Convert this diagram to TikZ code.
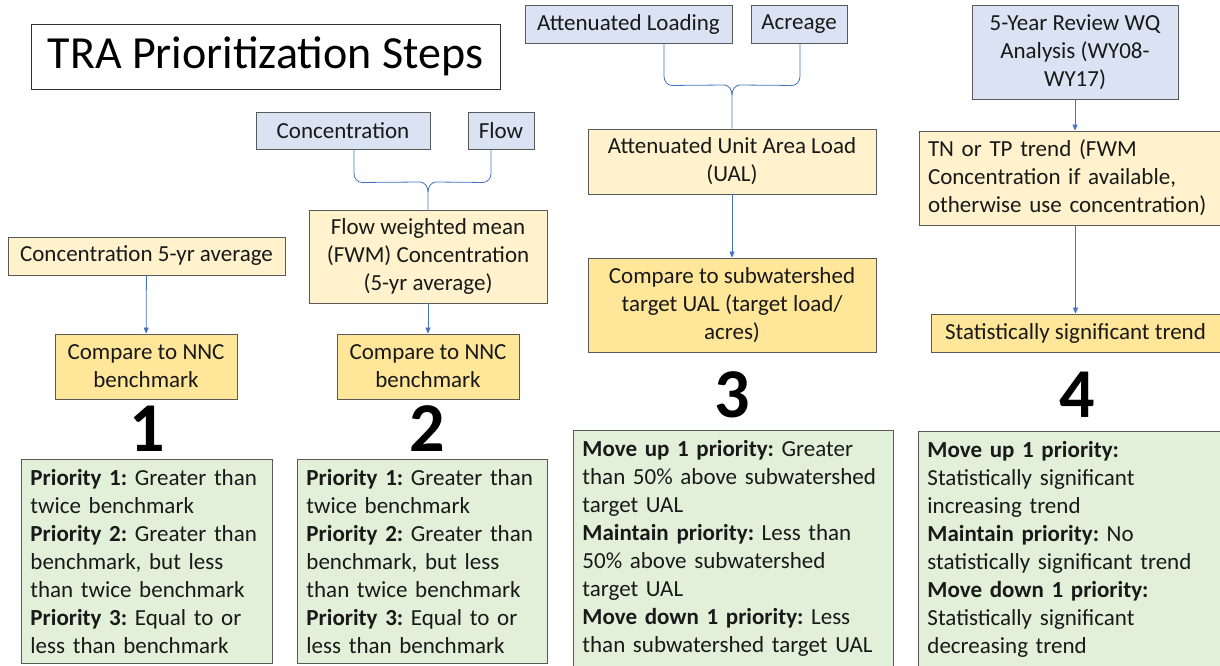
\documentclass[tikz,border=0pt]{standalone}
\usepackage{fontspec}
\setmainfont{Carlito}
\usepackage{xcolor}
\usetikzlibrary{positioning,arrows.meta}

\definecolor{inblue}{HTML}{DAE3F3}
\definecolor{stepyellow}{HTML}{FFF2CC}
\definecolor{cmpgold}{HTML}{FFE699}
\definecolor{rulegreen}{HTML}{E2F0D9}
\definecolor{linkblue}{HTML}{4472C4}
\newcommand{\bodyfont}{\fontsize{23}{28}\selectfont\frenchspacing}

\begin{document}
\begin{tikzpicture}[x=1pt,y=-1pt,
  box/.style={draw=black!65,line width=0.9pt,font=\bodyfont,inner sep=0pt,align=center,text=black!90},
  input box/.style={box,fill=inblue},
  step box/.style={box,fill=stepyellow},
  compare box/.style={box,fill=cmpgold},
  rule box/.style={box,fill=rulegreen,align=left,inner xsep=9pt,inner ysep=10pt,anchor=north west},
  step number/.style={font=\fontsize{70}{70}\selectfont\bfseries},
  link/.style={linkblue,line width=0.8pt,-{Triangle[length=6pt,width=5pt]}},
  brace/.style={linkblue,line width=0.8pt}]

\useasboundingbox (0,0) rectangle (1220,665);
\fill[white] (0,0) rectangle (1220,665);
\clip (0,0) rectangle (1220,665);

\node[draw=black!80,line width=1pt,minimum width=469pt,minimum height=65pt,
  font=\fontsize{46}{50}\selectfont] (title) at (265.5,56.5) {TRA Prioritization Steps};

% step 1
\node[step box,minimum width=277pt,minimum height=38pt] (avg1) at (146.5,256) {Concentration 5-yr average};
\node[compare box,minimum width=182pt,minimum height=65pt] (cmp1) at (146,366.5) {Compare to NNC\\benchmark};
\node[step number] (n1) at (147,429) {1};
\node[rule box,text width=233pt] (rule1) at (21,459)
  {\textbf{Priority 1:} Greater than\\twice benchmark\\\textbf{Priority 2:} Greater than\\benchmark, but less\\than twice benchmark\\\textbf{Priority 3:} Equal to or\\less than benchmark};
\draw[link] (avg1) -- (cmp1);

% step 2
\node[input box,minimum width=174pt,minimum height=37pt] (conc) at (343,130.5) {Concentration};
\node[input box,minimum width=66pt,minimum height=37pt] (flow) at (501,130.5) {Flow};
\node[step box,minimum width=238pt,minimum height=93pt] (fwm) at (428,256.5) {Flow weighted mean\\(FWM) Concentration\\(5-yr average)};
\node[compare box,minimum width=182pt,minimum height=65pt] (cmp2) at (428,366.5) {Compare to NNC\\benchmark};
\node[step number] (n2) at (427,429) {2};
\node[rule box,text width=232pt] (rule2) at (297,459)
  {\textbf{Priority 1:} Greater than\\twice benchmark\\\textbf{Priority 2:} Greater than\\benchmark, but less\\than twice benchmark\\\textbf{Priority 3:} Equal to or\\less than benchmark};
\coordinate (j2) at (428,182);
\draw[brace] ([xshift=11pt]conc.south) -- ++(0,24) to[out=-90,in=180] ++(8,9)
  -- ([xshift=-8pt]j2) to[out=0,in=90] ++(8,10) -- (fwm.north);
\draw[brace] ([xshift=-10pt]flow.south) -- ++(0,24) to[out=-90,in=0] ++(-8,9)
  -- ([xshift=8pt]j2) to[out=180,in=90] ++(-8,10);
\draw[link] (fwm) -- (cmp2);

% step 3
\node[input box,minimum width=207pt,minimum height=38pt] (load) at (628.5,24) {Attenuated Loading};
\node[input box,minimum width=96pt,minimum height=38pt] (acre) at (799,24) {Acreage};
\node[step box,minimum width=288pt,minimum height=65pt] (ual) at (732,161.5) {Attenuated Unit Area Load\\(UAL)};
\node[compare box,minimum width=288pt,minimum height=94pt] (cmp3) at (732,305) {Compare to subwatershed\\target UAL (target load/\\acres)};
\node[step number] (n3) at (732,395) {3};
\node[rule box,text width=302pt] (rule3) at (573,430)
  {\textbf{Move up 1 priority:} Greater\\than 50\% above subwatershed\\target UAL\\\textbf{Maintain priority:} Less than\\50\% above subwatershed\\target UAL\\\textbf{Move down 1 priority:} Less\\than subwatershed target UAL};
\coordinate (j3) at (732,85);
\draw[brace] ([xshift=35.5pt]load.south) -- ++(0,33) to[out=-90,in=180] ++(8,9)
  -- ([xshift=-8pt]j3) to[out=0,in=90] ++(8,10) -- (ual.north);
\draw[brace] ([xshift=1pt]acre.south) -- ++(0,33) to[out=-90,in=0] ++(-8,9)
  -- ([xshift=8pt]j3) to[out=180,in=90] ++(-8,10);
\draw[link] (ual) -- (cmp3);

% step 4
\node[input box,minimum width=206pt,minimum height=94pt] (review) at (1075,52) {5-Year Review WQ\\Analysis (WY08-\\WY17)};
\node[step box,minimum height=94pt,text width=293pt,inner xsep=9pt,align=left] (trend) at (1074.5,178)
  {TN or TP trend (FWM\\Concentration if available,\\otherwise use concentration)};
\node[compare box,minimum width=289pt,minimum height=38pt] (signif) at (1075.5,333) {Statistically significant trend};
\node[step number] (n4) at (1077,395) {4};
\node[rule box,text width=292pt] (rule4) at (918,431)
  {\textbf{Move up 1 priority:}\\Statistically significant\\increasing trend\\\textbf{Maintain priority:} No\\statistically significant trend\\\textbf{Move down 1 priority:}\\Statistically significant\\decreasing trend};
\draw[link] (review.south) -- (review.south |- trend.north);
\draw[link] (signif.north |- trend.south) -- (signif.north);

\end{tikzpicture}
\end{document}
